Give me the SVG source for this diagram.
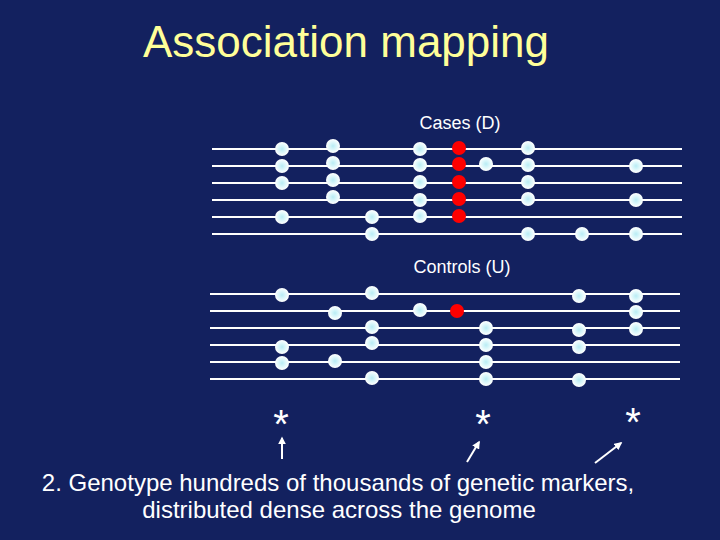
<svg xmlns="http://www.w3.org/2000/svg" width="720" height="540" viewBox="0 0 720 540">
<style>
.ln{stroke:#ffffff;stroke-width:2;fill:none}
.w{fill:url(#g)}
.r{fill:#ff0000}
.t{font-family:"Liberation Sans",Arial,sans-serif;fill:#ffffff}
.ar{stroke:#ffffff;stroke-width:2;fill:none;marker-end:url(#ah)}
</style>
<defs>
<radialGradient id="g" cx="0.5" cy="0.5" r="0.5">
<stop offset="0" stop-color="#b8ecf4"/>
<stop offset="0.55" stop-color="#dff8fb"/>
<stop offset="1" stop-color="#ffffff"/>
</radialGradient>
<marker id="ah" viewBox="0 0 10 10" refX="8" refY="5" markerWidth="4" markerHeight="4" orient="auto" markerUnits="strokeWidth">
<path d="M0,0 L10,5 L0,10 z" fill="#ffffff"/>
</marker>
</defs>
<rect width="720" height="540" fill="#13215f"/>
<text x="143" y="57" font-family="Liberation Sans,Arial,sans-serif" font-size="44" fill="#ffff99">Association mapping</text>

<g id="cases">
<text class="t" x="460" y="129" font-size="18" text-anchor="middle">Cases (D)</text>
<g class="lines">
<line class="ln" x1="212" y1="149" x2="682" y2="149"/>
<line class="ln" x1="212" y1="166" x2="682" y2="166"/>
<line class="ln" x1="212" y1="183" x2="682" y2="183"/>
<line class="ln" x1="212" y1="200" x2="682" y2="200"/>
<line class="ln" x1="212" y1="217" x2="682" y2="217"/>
<line class="ln" x1="212" y1="234" x2="682" y2="234"/>
</g>
<g class="dots">
<circle class="w" cx="282" cy="149" r="7"/>
<circle class="w" cx="282" cy="166" r="7"/>
<circle class="w" cx="282" cy="183" r="7"/>
<circle class="w" cx="282" cy="217" r="7"/>
<circle class="w" cx="333" cy="146" r="7"/>
<circle class="w" cx="333" cy="163" r="7"/>
<circle class="w" cx="333" cy="180" r="7"/>
<circle class="w" cx="333" cy="197" r="7"/>
<circle class="w" cx="372" cy="217" r="7"/>
<circle class="w" cx="372" cy="234" r="7"/>
<circle class="w" cx="420" cy="149" r="7"/>
<circle class="w" cx="420" cy="165" r="7"/>
<circle class="w" cx="420" cy="182" r="7"/>
<circle class="w" cx="420" cy="200" r="7"/>
<circle class="w" cx="420" cy="216" r="7"/>
<circle class="r" cx="459" cy="148" r="7"/>
<circle class="r" cx="459" cy="164" r="7"/>
<circle class="r" cx="459" cy="182" r="7"/>
<circle class="r" cx="459" cy="199" r="7"/>
<circle class="r" cx="459" cy="216" r="7"/>
<circle class="w" cx="486" cy="164" r="7"/>
<circle class="w" cx="528" cy="148" r="7"/>
<circle class="w" cx="528" cy="165" r="7"/>
<circle class="w" cx="528" cy="182" r="7"/>
<circle class="w" cx="528" cy="199" r="7"/>
<circle class="w" cx="528" cy="234" r="7"/>
<circle class="w" cx="582" cy="234" r="7"/>
<circle class="w" cx="636" cy="166" r="7"/>
<circle class="w" cx="636" cy="200" r="7"/>
<circle class="w" cx="636" cy="234" r="7"/>
</g>
</g>

<g id="controls">
<text class="t" x="462" y="273" font-size="18" text-anchor="middle">Controls (U)</text>
<g class="lines">
<line class="ln" x1="210" y1="294" x2="680" y2="294"/>
<line class="ln" x1="210" y1="311" x2="680" y2="311"/>
<line class="ln" x1="210" y1="328" x2="680" y2="328"/>
<line class="ln" x1="210" y1="345" x2="680" y2="345"/>
<line class="ln" x1="210" y1="362" x2="680" y2="362"/>
<line class="ln" x1="210" y1="379" x2="680" y2="379"/>
</g>
<g class="dots">
<circle class="w" cx="282" cy="295" r="7"/>
<circle class="w" cx="282" cy="347" r="7"/>
<circle class="w" cx="282" cy="363" r="7"/>
<circle class="w" cx="335" cy="313" r="7"/>
<circle class="w" cx="335" cy="361" r="7"/>
<circle class="w" cx="372" cy="293" r="7"/>
<circle class="w" cx="372" cy="327" r="7"/>
<circle class="w" cx="372" cy="343" r="7"/>
<circle class="w" cx="372" cy="378" r="7"/>
<circle class="w" cx="420" cy="310" r="7"/>
<circle class="r" cx="457" cy="311" r="7"/>
<circle class="w" cx="486" cy="328" r="7"/>
<circle class="w" cx="486" cy="345" r="7"/>
<circle class="w" cx="486" cy="362" r="7"/>
<circle class="w" cx="486" cy="379" r="7"/>
<circle class="w" cx="579" cy="296" r="7"/>
<circle class="w" cx="579" cy="330" r="7"/>
<circle class="w" cx="579" cy="347" r="7"/>
<circle class="w" cx="579" cy="380" r="7"/>
<circle class="w" cx="636" cy="296" r="7"/>
<circle class="w" cx="636" cy="312" r="7"/>
<circle class="w" cx="636" cy="329" r="7"/>
</g>
</g>

<g id="stars">
<text class="t" x="281" y="438" font-size="40" text-anchor="middle">*</text>
<text class="t" x="483" y="438" font-size="40" text-anchor="middle">*</text>
<text class="t" x="633" y="436" font-size="40" text-anchor="middle">*</text>
</g>

<g id="connectors">
<line class="ar" x1="282" y1="459" x2="282" y2="438"/>
<line class="ar" x1="467" y1="462" x2="479" y2="442"/>
<line class="ar" x1="595" y1="463" x2="621" y2="443"/>
</g>

<g id="caption">
<text class="t" x="338" y="491" font-size="24" text-anchor="middle">2. Genotype hundreds of thousands of genetic markers,</text>
<text class="t" x="339" y="518" font-size="24" text-anchor="middle">distributed dense across the genome</text>
</g>
</svg>
